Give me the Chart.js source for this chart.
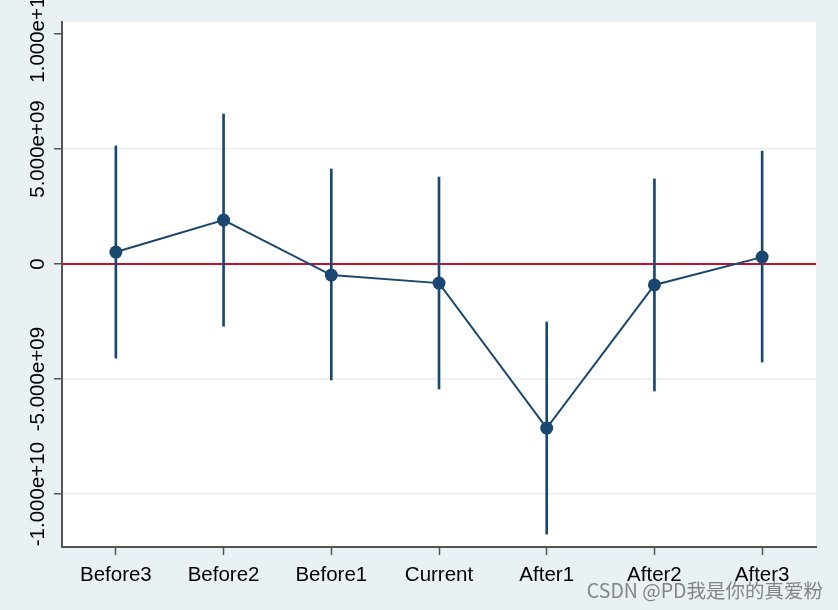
<!DOCTYPE html>
<html>
<head>
<meta charset="utf-8">
<script src="https://cdn.jsdelivr.net/npm/chart.js@4"></script>
<style>
    html, body { margin: 0; padding: 0; background: #e9f1f4; }
    #wrap { width: 838px; height: 610px; position: relative; }
</style>
</head>
<body>
<div id="wrap"><canvas id="grafico"></canvas></div>
<script>
// dados
const periodos = ["Before3", "Before2", "Before1", "Current", "After1", "After2", "After3"];
const coef = [0.52e9, 1.91e9, -0.48e9, -0.83e9, -7.13e9, -0.91e9, 0.30e9];
const icInferior = [-4.09e9, -2.70e9, -5.04e9, -5.43e9, -11.74e9, -5.52e9, -4.26e9];
const icSuperior = [5.13e9, 6.52e9, 4.13e9, 3.78e9, -2.52e9, 3.70e9, 4.91e9];
const yTicks = [-1e10, -5e9, 0, 5e9, 1e10];
const yTickLabels = ["-1.000e+10", "-5.000e+09", "0", "5.000e+09", "1.000e+10"];
const linhaRef = 0;
const marcaDagua = "CSDN @PD我是你的真爱粉";

const azul = "#1a476f";
const vermelho = "#c8102e";
const eixo = "#555555";
const fonte = "'Liberation Sans', Arial, sans-serif";

// linha vermelha no zero, atras das barras de erro
const pluginLinhaRef = {
    id: "linhaRef",
    beforeDatasetsDraw(chart) {
        const { ctx, chartArea, scales } = chart;
        const y = scales.y.getPixelForValue(linhaRef);
        ctx.save();
        ctx.strokeStyle = vermelho;
        ctx.lineWidth = 2;
        ctx.beginPath();
        ctx.moveTo(chartArea.left, y);
        ctx.lineTo(chartArea.right, y);
        ctx.stroke();
        ctx.restore();
    }
};

// fundo branco da area do grafico + marca d'agua
const pluginFundo = {
    id: "fundo",
    beforeDraw(chart) {
        const { ctx, chartArea } = chart;
        ctx.save();
        ctx.fillStyle = "#e9f1f4";
        ctx.fillRect(0, 0, chart.width, chart.height);
        ctx.fillStyle = "#ffffff";
        ctx.fillRect(chartArea.left, chartArea.top, chartArea.right - chartArea.left, chartArea.bottom - chartArea.top);
        ctx.restore();
    },
    afterDraw(chart) {
        const ctx = chart.ctx;
        ctx.save();
        ctx.font = "19.5px 'Noto Sans CJK SC', " + fonte;
        ctx.fillStyle = "rgba(105,105,105,0.8)";
        ctx.textAlign = "right";
        ctx.textBaseline = "alphabetic";
        ctx.fillText(marcaDagua, 823, 598);
        ctx.restore();
    }
};

new Chart(document.getElementById("grafico"), {
    data: {
        labels: periodos,
        datasets: [
            {
                type: "line",
                data: coef,
                borderColor: azul,
                backgroundColor: azul,
                borderWidth: 2,
                pointRadius: 6.5,
                pointBorderWidth: 0,
                tension: 0,
                order: 1
            },
            {
                type: "bar",
                data: icInferior.map((v, i) => [v, icSuperior[i]]),
                backgroundColor: azul,
                borderWidth: 0,
                barThickness: 2,
                order: 2
            }
        ]
    },
    options: {
        responsive: true,
        maintainAspectRatio: false,
        animation: false,
        layout: { padding: { top: 22, right: 22, left: 0, bottom: 0 } },
        plugins: {
            legend: { display: false },
            tooltip: { enabled: false }
        },
        scales: {
            x: {
                type: "category",
                offset: true,
                grid: { offset: false, drawOnChartArea: false, drawTicks: true, tickLength: 8, tickColor: eixo, tickWidth: 1.5 },
                border: { display: true, color: eixo, width: 2 },
                ticks: { color: "#000", font: { family: fonte, size: 20.5 }, padding: 8, maxRotation: 0, autoSkip: false },
                afterFit(s) { s.height = 63; s.paddingLeft = 0; s.paddingRight = 0; }
            },
            y: {
                type: "linear",
                min: -12.3e9,
                max: 10.52e9,
                afterBuildTicks(s) { s.ticks = yTicks.map(v => ({ value: v })); },
                grid: {
                    color: c => (c.tick && c.tick.value === 1e10) ? "rgba(0,0,0,0)" : "#e6eef1",
                    lineWidth: 1.5,
                    drawTicks: true,
                    tickLength: 8,
                    tickColor: eixo,
                    tickWidth: 1.5
                },
                border: { display: true, color: eixo, width: 2 },
                ticks: {
                    color: "#000",
                    font: { family: fonte, size: 20.5 },
                    minRotation: 90,
                    maxRotation: 90,
                    crossAlign: "center",
                    padding: -36,
                    autoSkip: false,
                    callback: (v) => yTickLabels[yTicks.indexOf(v)]
                },
                afterFit(s) { s.width = 62; s.paddingTop = 0; s.paddingBottom = 0; }
            }
        }
    },
    plugins: [pluginFundo, pluginLinhaRef]
});
</script>
</body>
</html>
